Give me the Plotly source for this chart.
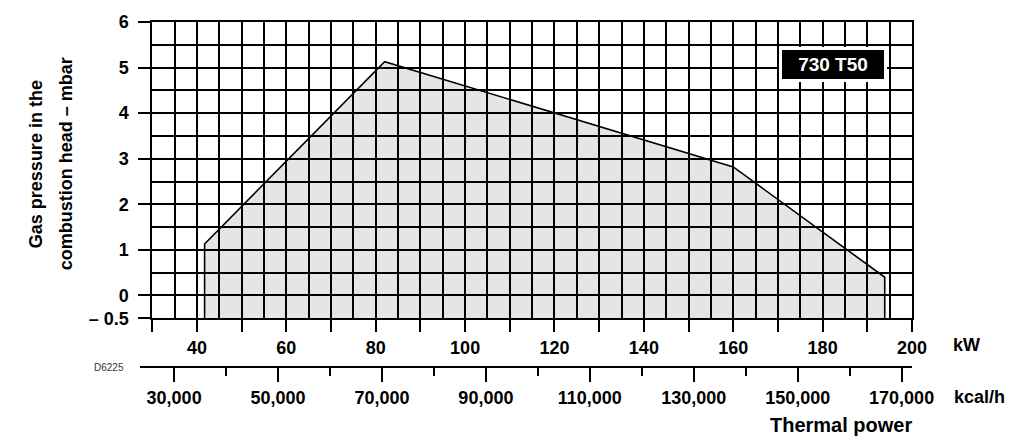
import plotly.graph_objects as go

# ---- data ----
power_kw = [41.7, 41.7, 82.0, 160.0, 193.9, 193.9]
pressure_mbar = [-0.5, 1.13, 5.13, 2.82, 0.40, -0.5]

kw_ticks = [30, 40, 50, 60, 70, 80, 90, 100, 110, 120, 130, 140, 150, 160, 170, 180, 190, 200]
kw_labels = ["", "40", "", "60", "", "80", "", "100", "", "120", "", "140", "", "160", "", "180", "", "200"]
kcal_ticks = [30000, 50000, 70000, 90000, 110000, 130000, 150000, 170000]
kcal_labels = ["30,000", "50,000", "70,000", "90,000", "110,000", "130,000", "150,000", "170,000"]
kcal_minor = [40000, 60000, 80000, 100000, 120000, 140000, 160000]
p_ticks = [-0.5, 0, 1, 2, 3, 4, 5, 6]
p_labels = ["\u2013 0.5", "0", "1", "2", "3", "4", "5", "6"]
KCAL_PER_KW = 860
kw_range = [30, 200]
p_range = [-0.5, 6]

# ---- layout geometry ----
W, H = 1024, 442
ML, MR, MT, MB = 140, 112, 20, 75
PW = W - ML - MR
PH = H - MT - MB
x_left_px = 152.3
y_bottom_px = 318
xd0 = (x_left_px - ML) / PW
yd0 = (H - MB - y_bottom_px) / PH
px_per_kw = PW * (1 - xd0) / (kw_range[1] - kw_range[0])
kw_at_paper_left = kw_range[0] - (x_left_px - ML) / px_per_kw
kcal_range = [kw_at_paper_left * KCAL_PER_KW, kw_range[1] * KCAL_PER_KW]

def px(xp):
    return (xp - ML) / PW

def py(yp):
    return (H - MB - yp) / PH

FONT = "Liberation Sans, Arial, sans-serif"

fig = go.Figure()
fig.add_trace(go.Scatter(
    x=power_kw, y=pressure_mbar, mode="lines", fill="toself",
    fillcolor="rgba(0,0,0,0.1)", line=dict(color="black", width=1.6),
    showlegend=False, hoverinfo="skip"))
# carrier for the secondary (kcal/h) axis
fig.add_trace(go.Scatter(x=[], y=[], xaxis="x2", yaxis="y2", showlegend=False, hoverinfo="skip"))

fig.update_layout(
    width=W, height=H,
    margin=dict(l=ML, r=MR, t=MT, b=MB),
    paper_bgcolor="white", plot_bgcolor="rgba(0,0,0,0)",
    font=dict(family=FONT, color="black"),
    xaxis=dict(
        domain=[xd0, 1], range=kw_range, anchor="y",
        tickmode="array", tickvals=kw_ticks, ticktext=kw_labels,
        ticks="outside", ticklen=12, tickwidth=2, tickcolor="black",
        showgrid=True, gridcolor="black", gridwidth=2,
        minor=dict(dtick=5, tick0=30, showgrid=True, gridcolor="black", gridwidth=2, ticks=""),
        showline=True, linecolor="black", linewidth=2, mirror=True,
        zeroline=False,
        tickfont=dict(size=18, weight="bold", family=FONT),
    ),
    xaxis2=dict(
        domain=[0, 1], range=kcal_range, anchor="free", position=0, side="bottom",
        tickmode="array", tickvals=kcal_ticks, ticktext=kcal_labels,
        ticks="outside", ticklen=14, tickwidth=2, tickcolor="black",
        minor=dict(tickmode="array", tickvals=kcal_minor, ticks="outside", ticklen=8,
                   tickwidth=2, tickcolor="black", showgrid=False),
        showgrid=False, zeroline=False,
        showline=True, linecolor="black", linewidth=2,
        tickfont=dict(size=18, weight="bold", family=FONT),
    ),
    yaxis=dict(
        domain=[yd0, 1], range=p_range, anchor="x",
        tickmode="array", tickvals=p_ticks, ticktext=p_labels,
        ticks="outside", ticklen=12, tickwidth=2, tickcolor="black",
        showgrid=True, gridcolor="black", gridwidth=2,
        minor=dict(dtick=0.5, tick0=-0.5, showgrid=True, gridcolor="black", gridwidth=2, ticks=""),
        showline=True, linecolor="black", linewidth=2, mirror=True,
        zeroline=False,
        tickfont=dict(size=18, weight="bold", family=FONT),
        ticklabelstandoff=6,
    ),
    yaxis2=dict(
        domain=[yd0, 1], range=p_range, anchor="x2", visible=False,
        showgrid=False, zeroline=False,
    ),
)

ann = [
    dict(text="<b>kW</b>", x=px(966), y=py(345), size=18),
    dict(text="<b>kcal/h</b>", x=px(979), y=py(397), size=18),
    dict(text="<b>Thermal power</b>", x=px(841), y=py(425), size=20),
]
for a in ann:
    fig.add_annotation(text=a["text"], x=a["x"], y=a["y"], xref="paper", yref="paper",
                       showarrow=False, xanchor="center", yanchor="middle",
                       font=dict(size=a["size"], family=FONT, color="black"))

fig.add_annotation(text="D6225", x=px(109), y=py(367), xref="paper", yref="paper",
                   showarrow=False, xanchor="center", yanchor="middle",
                   font=dict(size=10, family=FONT, color="#333333"))
fig.add_annotation(text="<b>Gas pressure in the</b>", x=px(36), y=py(163), xref="paper", yref="paper",
                   showarrow=False, textangle=-90, xanchor="center", yanchor="middle",
                   font=dict(size=18, family=FONT, color="black"))
fig.add_annotation(text="<b>combustion head \u2013 mbar</b>", x=px(66), y=py(163), xref="paper", yref="paper",
                   showarrow=False, textangle=-90, xanchor="center", yanchor="middle",
                   font=dict(size=18, family=FONT, color="black"))
fig.add_annotation(text="<b>730 T50</b>", x=px(833), y=py(62.5), xref="paper", yref="paper",
                   showarrow=False, xanchor="center", yanchor="middle",
                   width=102, height=29, borderpad=0, borderwidth=3,
                   bgcolor="black", bordercolor="white",
                   font=dict(size=19, family=FONT, color="white"))

fig.write_html("out.html")
